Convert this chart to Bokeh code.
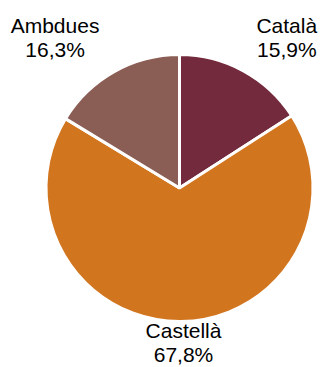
import math
from bokeh.plotting import figure
from bokeh.models import Range1d, ColumnDataSource
from bokeh.core.properties import value
from bokeh.embed import file_html
from bokeh.resources import INLINE

# Data
categories = ["Català", "Castellà", "Ambdues"]
shares = [15.9, 67.8, 16.3]
colors = ["#722A3C", "#D2751F", "#8B5E55"]

W, H = 321, 367
CX, CY, R = 179, 187.5, 133.5

total = sum(shares)
starts, ends, mids = [], [], []
acc = 0.0
for v in shares:
    a0 = math.pi / 2 - 2 * math.pi * acc / total
    acc += v
    a1 = math.pi / 2 - 2 * math.pi * acc / total
    starts.append(a0)
    ends.append(a1)
    mids.append((a0 + a1) / 2)

p = figure(width=W, height=H, output_backend="svg", toolbar_location=None,
           x_range=Range1d(0, W), y_range=Range1d(0, H), min_border=0)
p.axis.visible = False
p.grid.visible = False
p.outline_line_color = None
p.background_fill_color = "white"
p.border_fill_color = "white"

src = ColumnDataSource(dict(start=starts, end=ends, color=colors))
p.wedge(x=CX, y=H - CY, radius=R, start_angle="start", end_angle="end",
        direction="clock", fill_color="color", line_color="white",
        line_width=3, source=src)

# label placement (layout): radial horizontal push per label, fixed vertical gap
label_r = [224, 0, 254]
label_nudge_x = [0, 4, 0]
baseline_fix = 7
label_dy_top, label_dy_bottom = 155.5 + baseline_fix, 149.5 - baseline_fix
line_gap = 24
names, pcts, lx, ly1, ly2 = [], [], [], [], []
for i, (c, v, m) in enumerate(zip(categories, shares, mids)):
    x = CX + label_r[i] * math.cos(m) + label_nudge_x[i]
    yb = CY - label_dy_top if math.sin(m) > 0 else CY + label_dy_bottom
    names.append(c)
    pcts.append(f"{v:.1f}".replace(".", ",") + "%")
    lx.append(x)
    ly1.append(H - yb)
    ly2.append(H - (yb + line_gap))

lsrc = ColumnDataSource(dict(x=lx, y1=ly1, y2=ly2, n=names, p=pcts))
for ycol, tcol in (("y1", "n"), ("y2", "p")):
    p.text(x="x", y=ycol, text=tcol, source=lsrc, text_align="center",
           text_baseline="alphabetic", text_font=value("Liberation Sans"),
           text_font_size="21px", text_color="#000000")

open("out.html", "w").write(file_html(p, INLINE))
